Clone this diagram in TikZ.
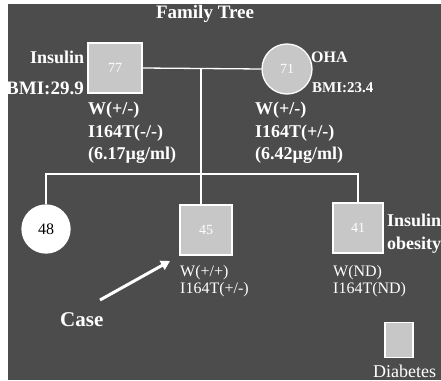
\documentclass[tikz,border=0pt]{standalone}
\usepackage{fontspec}
\setmainfont{Liberation Serif}
\usetikzlibrary{arrows.meta}
\definecolor{treebg}{gray}{0.3}
\definecolor{treefill}{gray}{0.78}
\tikzset{
  member/.style={draw=white, fill=treefill, line width=1.3pt, inner sep=0pt, text=white, font=\fontsize{14}{14}\selectfont},
  male/.style={member, rectangle, minimum width=54pt, minimum height=50pt},
  female/.style={member, circle, minimum size=50pt},
  lbl/.style={text=white, inner sep=0pt, anchor=west, font=\bfseries\fontsize{18}{18}\selectfont},
  lblthin/.style={lbl, font=\fontsize{16}{16}\selectfont},
  link/.style={draw=white, line width=1.3pt}
}
\begin{document}
\begin{tikzpicture}[x=1pt, y=-1pt]
  \useasboundingbox (0,0) rectangle (441,380);
  \fill[treebg] (8,4) rectangle (441,380);
  \node[lbl, anchor=center, font=\bfseries\fontsize{19}{19}\selectfont] (title) at (205,14) {Family Tree};
  % parents
  \node[male] (father) at (115,68) {77};
  \node[female] (mother) at (287,69) {71};
  \node[lbl] (fins) at (30,57) {Insulin};
  \node[lbl, font=\bfseries\fontsize{19}{19}\selectfont] (fbmi) at (6,88) {BMI:29.9};
  \node[lbl] (fw) at (88,110) {W(+/-)};
  \node[lbl] (fi) at (88,133) {I164T(-/-)};
  \node[lbl] (fc) at (88,155) {(6.17µg/ml)};
  \node[lbl, font=\bfseries\fontsize{16}{16}\selectfont] (moha) at (311,57) {OHA};
  \node[lbl, font=\bfseries\fontsize{15}{15}\selectfont] (mbmi) at (312,88) {BMI:23.4};
  \node[lbl] (mw) at (255,110) {W(+/-)};
  \node[lbl] (mi) at (255,133) {I164T(+/-)};
  \node[lbl] (mc) at (255,155) {(6.42µg/ml)};
  % children
  \node[female, fill=white, text=black, minimum size=48pt, font=\fontsize{16}{16}\selectfont] (sister) at (46,229) {48};
  \node[male, minimum width=52pt] (case) at (206,230) {45};
  \node[male, minimum width=50pt] (brother) at (358,228) {41};
  \node[lblthin] (cw) at (180,273) {W(+/+)};
  \node[lblthin] (ci) at (180,290) {I164T(+/-)};
  \node[lblthin] (bw) at (333,273) {W(ND)};
  \node[lblthin] (bi) at (333,290) {I164T(ND)};
  \node[lbl] (bins) at (387,220) {Insulin};
  \node[lbl] (bob) at (387,245) {obesity};
  % lines of descent
  \coordinate (mate) at (201,68);
  \coordinate (sibs) at (201,174);
  \draw[link] (father.east) -- (mother.west);
  \draw[link] (mate) -- (sibs);
  \draw[link] (sister.north) |- (sibs) -| (brother.north);
  \draw[link] (sibs) -- (sibs |- case.north);
  % case marker
  \coordinate (casetail) at (100,300);
  \coordinate (casetip) at (170,261);
  \draw[link, line width=3pt, -{Triangle[length=9pt, width=10pt]}] (casetail) -- (casetip);
  \node[lbl, font=\bfseries\fontsize{21}{21}\selectfont] (caselbl) at (60,320) {Case};
  % legend
  \node[member, rectangle, minimum width=28pt, minimum height=35pt] (key) at (399,340) {};
  \node[lbl, font=\fontsize{18}{18}\selectfont] (keylbl) at (373,371) {Diabetes};
\end{tikzpicture}
\end{document}
